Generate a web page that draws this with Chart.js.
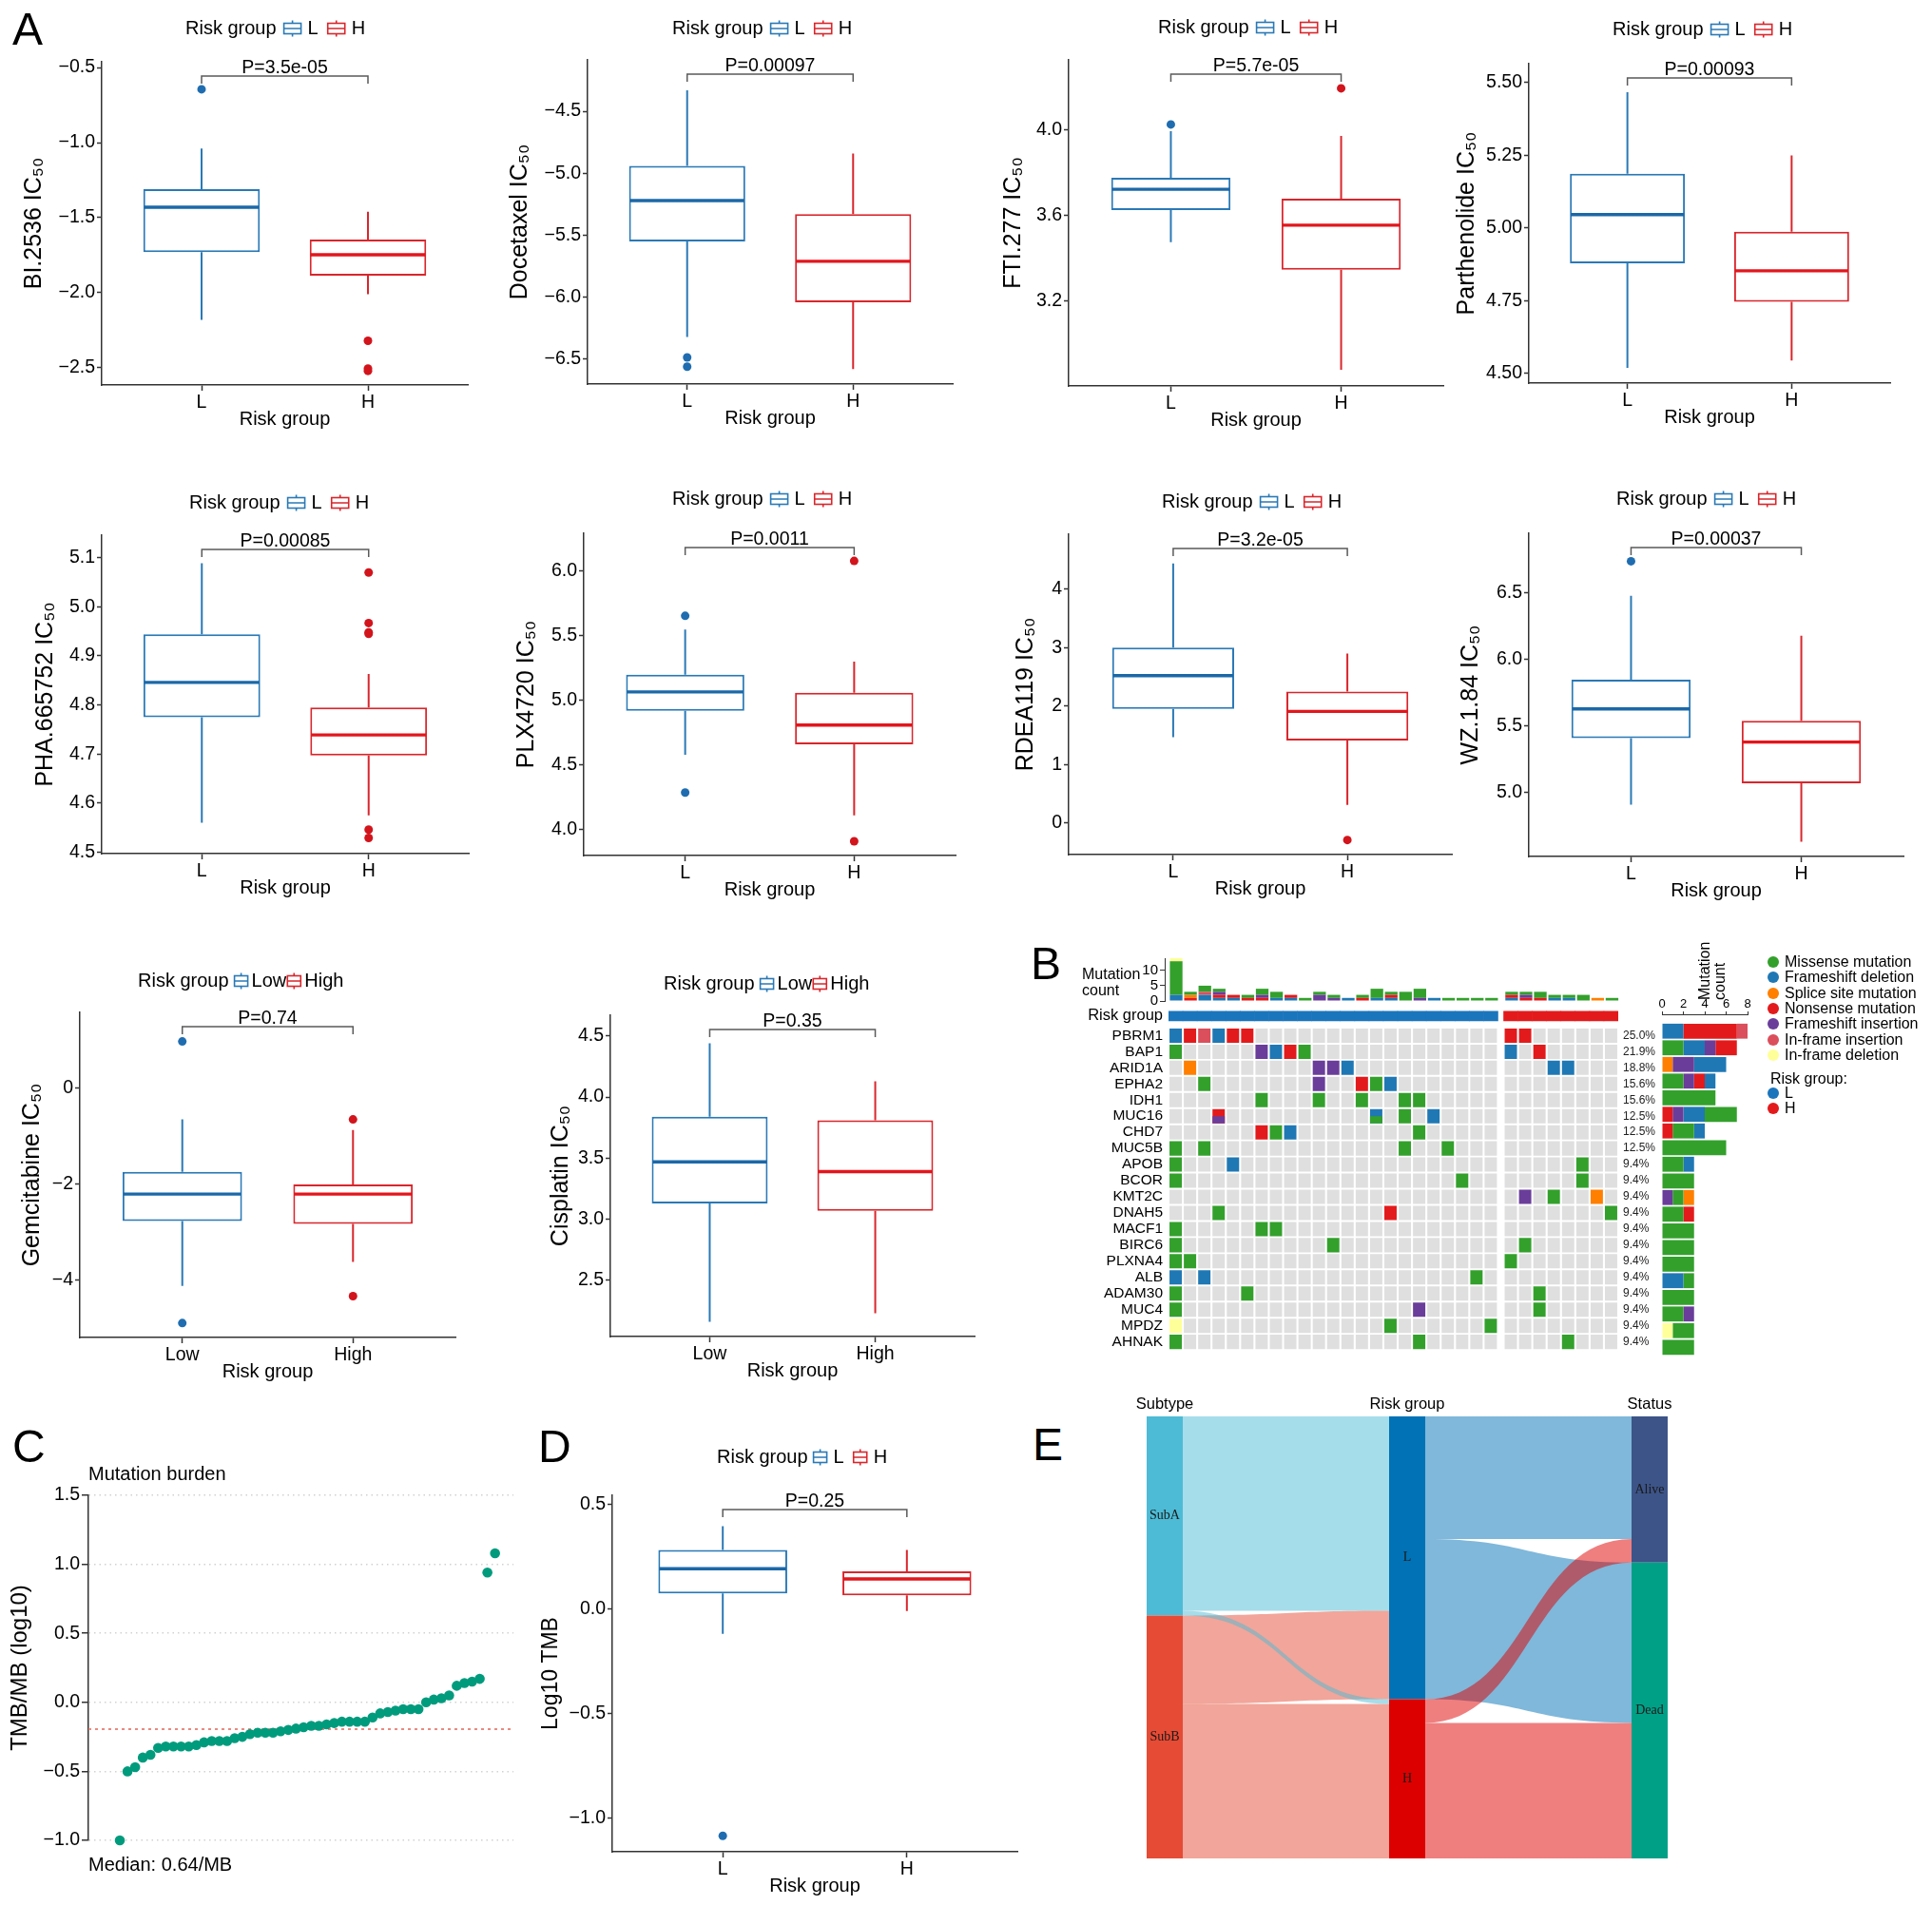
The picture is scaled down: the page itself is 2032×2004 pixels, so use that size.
<!DOCTYPE html>
<html>
<head>
<meta charset="utf-8">
<title>Drug sensitivity, mutation landscape and TMB by risk group</title>
<script src="https://cdn.jsdelivr.net/npm/chart.js@4.4.0/dist/chart.umd.min.js"></script>
<style>
  html, body { margin: 0; padding: 0; background: #fff; }
  body { position: relative; width: 2032px; height: 2004px; overflow: hidden;
         font-family: "Liberation Sans", Arial, Helvetica, sans-serif; color: #000; }
  canvas { position: absolute; }
  .txt { position: absolute; white-space: nowrap; }
  .dot { position: absolute; width: 12px; height: 12px; border-radius: 50%; }
</style>
</head>
<body>
<script>
(function () {
  "use strict";

  // ---------------- A: IC50 by risk group ----------------
  const riskShort = ["L", "H"];
  const riskLong = ["Low", "High"];
  const drugNames = ["BI.2536", "Docetaxel", "FTI.277", "Parthenolide", "PHA.665752",
                     "PLX4720", "RDEA119", "WZ.1.84", "Gemcitabine", "Cisplatin"];
  // [lower whisker, Q1, median, Q3, upper whisker]
  const lowStats = [
    [-2.18, -1.73, -1.43, -1.31, -1.04],
    [-6.32, -5.55, -5.22, -4.94, -4.33],
    [3.476, 3.627, 3.724, 3.778, 3.996],
    [4.519, 4.879, 5.046, 5.187, 5.467],
    [4.56, 4.775, 4.846, 4.944, 5.089],
    [4.58, 4.92, 5.066, 5.20, 5.55],
    [1.47, 1.95, 2.52, 3.00, 4.44],
    [4.91, 5.41, 5.63, 5.85, 6.48],
    [-4.12, -2.77, -2.21, -1.75, -0.66],
    [2.16, 3.13, 3.47, 3.84, 4.44]
  ];
  const highStats = [
    [-2.01, -1.886, -1.747, -1.645, -1.46],
    [-6.58, -6.04, -5.71, -5.33, -4.84],
    [2.88, 3.347, 3.556, 3.680, 3.973],
    [4.545, 4.746, 4.853, 4.987, 5.25],
    [4.575, 4.697, 4.739, 4.795, 4.863],
    [4.11, 4.66, 4.81, 5.06, 5.30],
    [0.31, 1.41, 1.91, 2.25, 2.90],
    [4.63, 5.07, 5.38, 5.54, 6.18],
    [-3.62, -2.83, -2.21, -2.01, -0.88],
    [2.23, 3.07, 3.39, 3.81, 4.13]
  ];
  const lowOutliers = [[-0.645], [-6.485, -6.56], [4.027], [], [], [5.655, 4.287], [], [6.74], [0.96, -4.89], []];
  const highOutliers = [[-2.32, -2.505, -2.52], [], [4.196], [], [5.07, 4.967, 4.948, 4.945, 4.546, 4.529],
                        [6.08, 3.91], [-0.29], [], [-0.66, -4.33], []];
  const pValues = ["3.5e-05", "0.00097", "5.7e-05", "0.00093", "0.00085", "0.0011", "3.2e-05", "0.00037", "0.74", "0.35"];
  const drugTicks = [
    [-2.5, -2.0, -1.5, -1.0, -0.5],
    [-6.5, -6.0, -5.5, -5.0, -4.5],
    [3.2, 3.6, 4.0],
    [4.50, 4.75, 5.00, 5.25, 5.50],
    [4.5, 4.6, 4.7, 4.8, 4.9, 5.0, 5.1],
    [4.0, 4.5, 5.0, 5.5, 6.0],
    [0, 1, 2, 3, 4],
    [5.0, 5.5, 6.0, 6.5],
    [-4, -2, 0],
    [2.5, 3.0, 3.5, 4.0, 4.5]
  ];
  const drugTickDecimals = [1, 1, 1, 2, 1, 1, 0, 1, 0, 1];
  const drugYRange = [[-2.614, -0.462], [-6.70, -4.085], [2.804, 4.329], [4.467, 5.565], [4.497, 5.146],
                      [3.80, 6.294], [-0.54, 4.94], [4.52, 6.95], [-5.19, 1.564], [2.04, 4.67]];

  // ---------------- C: TMB waterfall ----------------
  const tmbLog10 = [-1.00, -0.50, -0.47, -0.40, -0.38, -0.33, -0.32, -0.32, -0.32, -0.32,
                    -0.31, -0.29, -0.28, -0.28, -0.28, -0.26, -0.25, -0.23, -0.22, -0.22,
                    -0.22, -0.21, -0.20, -0.19, -0.18, -0.17, -0.17, -0.16, -0.15, -0.14,
                    -0.14, -0.14, -0.14, -0.11, -0.08, -0.07, -0.06, -0.05, -0.05, -0.05,
                    0.00, 0.02, 0.03, 0.05, 0.12, 0.14, 0.15, 0.17, 0.94, 1.08];
  const tmbMedianLog10 = -0.194;
  const tmbMedianLabel = "Median: 0.64/MB";
  const tmbTicks = [-1.0, -0.5, 0.0, 0.5, 1.0, 1.5];

  // ---------------- D: log10 TMB by risk group ----------------
  const tmbLowStats = [-0.118, 0.076, 0.194, 0.284, 0.397];
  const tmbHighStats = [-0.008, 0.066, 0.145, 0.181, 0.284];
  const tmbLowOutliers = [-1.084];
  const tmbHighOutliers = [];
  const tmbP = "0.25";
  const tmbBoxTicks = [-1.0, -0.5, 0.0, 0.5];

  // ---------------- B: oncoplot ----------------
  const mutTypes = ["Missense mutation", "Frameshift deletion", "Splice site mutation", "Nonsense mutation",
                    "Frameshift insertion", "In-frame insertion", "In-frame deletion"];
  const mutCodes = ["M", "D", "S", "N", "I", "P", "Y"];
  const genes = ["PBRM1", "BAP1", "ARID1A", "EPHA2", "IDH1", "MUC16", "CHD7", "MUC5B", "APOB", "BCOR",
                 "KMT2C", "DNAH5", "MACF1", "BIRC6", "PLXNA4", "ALB", "ADAM30", "MUC4", "MPDZ", "AHNAK"];
  const sampleRisk = "LLLLLLLLLLLLLLLLLLLLLLLHHHHHHHH".split("");
  // one character per sample (L samples | H samples); x = nonsense over frameshift ins, z = frameshift del over missense
  const geneMatrix = [
    "DNPDNN.................|NN......",
    "M.....IDNM.............|D.N.....",
    ".S........IID..........|...DD...",
    "..M.......I..NMD.......|........",
    "......M...M..M..MM.....|........",
    "...x..........z.M.D....|........",
    "......NMD........M.....|........",
    "M.M.............M..M...|........",
    "M...D..................|.....M..",
    "M...................M..|.....M..",
    ".......................|.I.M..S.",
    "...M...........N.......|.......M",
    "M.....MM...............|........",
    "M..........M...........|.M......",
    "MM.....................|M.......",
    "D.D..................M.|........",
    "M....M.................|..M.....",
    "M................I.....|..M.....",
    "Y..............M......M|........",
    "M................M.....|....M..."
  ].map(s => s.replace("|", ""));
  const splitCells = { x: ["N", "I"], z: ["D", "M"] };
  const totalSamples = 32;
  // per-sample mutation counts by type (top bar)
  const sampleCounts = {
    M: [11, 1, 2, 1, 0, 1, 2, 2, 0, 1, 1, 1, 0, 1, 3, 1, 3, 3, 0, 1, 1, 1, 1, 1, 1, 2, 1, 1, 2, 0, 1],
    D: [2, 0, 2, 1, 1, 0, 0, 1, 1, 0, 0, 0, 1, 0, 1, 1, 0, 0, 1, 0, 0, 0, 0, 1, 0, 0, 1, 1, 0, 0, 0],
    S: [0, 1, 0, 0, 0, 0, 0, 0, 0, 0, 0, 0, 0, 0, 0, 0, 0, 0, 0, 0, 0, 0, 0, 0, 0, 0, 0, 0, 0, 1, 0],
    N: [0, 1, 0, 1, 1, 1, 1, 0, 1, 0, 0, 0, 0, 1, 0, 1, 0, 0, 0, 0, 0, 0, 0, 1, 1, 1, 0, 0, 0, 0, 0],
    I: [0, 0, 0, 1, 0, 0, 1, 0, 0, 0, 2, 1, 0, 0, 0, 0, 0, 1, 0, 0, 0, 0, 0, 0, 1, 0, 0, 0, 0, 0, 0],
    P: [0, 0, 1, 0, 0, 0, 0, 0, 0, 0, 0, 0, 0, 0, 0, 0, 0, 0, 0, 0, 0, 0, 0, 0, 0, 0, 0, 0, 0, 0, 0],
    Y: [1, 0, 0, 0, 0, 0, 0, 0, 0, 0, 0, 0, 0, 0, 0, 0, 0, 0, 0, 0, 0, 0, 0, 0, 0, 0, 0, 0, 0, 0, 0]
  };
  const topStackOrder = ["D", "N", "S", "I", "P", "M", "Y"];
  // per-gene mutation counts by type (right bar), in drawing order
  const geneSegments = [
    [["D", 2], ["N", 5], ["P", 1]],
    [["M", 2], ["D", 2], ["I", 1], ["N", 2]],
    [["S", 1], ["I", 2], ["D", 3]],
    [["M", 2], ["I", 1], ["N", 1], ["D", 1]],
    [["M", 5]],
    [["N", 1], ["I", 1], ["D", 2], ["M", 3]],
    [["N", 1], ["M", 2], ["D", 1]],
    [["M", 6]],
    [["M", 2], ["D", 1]],
    [["M", 3]],
    [["I", 1], ["M", 1], ["S", 1]],
    [["M", 2], ["N", 1]],
    [["M", 3]],
    [["M", 3]],
    [["M", 3]],
    [["D", 2], ["M", 1]],
    [["M", 3]],
    [["M", 2], ["I", 1]],
    [["Y", 1], ["M", 2]],
    [["M", 3]]
  ];
  const rightTicks = [0, 2, 4, 6, 8];
  const topTicks = [0, 5, 10];

  // ---------------- E: alluvial ----------------
  const sankeyStages = ["Subtype", "Risk group", "Status"];
  const subtypeNodes = ["SubA", "SubB"];
  const riskNodes = ["L", "H"];
  const statusNodes = ["Alive", "Dead"];
  const subtypeToRisk = [[165, 4], [75, 131]];
  const riskToStatus = [[104, 136], [20, 115]];

  // ---------------- styles / layout ----------------
  const FONT = '"Liberation Sans", Arial, Helvetica, sans-serif';
  const SERIF = '"Liberation Serif", "Times New Roman", serif';
  const groupColor = ["#2a79b6", "#d9262c"];
  const medianColor = ["#1b68a8", "#e3161c"];
  const pointColor = ["#1f6db0", "#d2141c"];
  const axisColor = "#333333";
  const mutColor = { M: "#33a02c", D: "#1f78b4", S: "#ff7f00", N: "#e31a1c", I: "#6a3d9a", P: "#da4f5b", Y: "#ffff99" };
  const emptyCell = "#dfdfdf";
  const riskBarColor = { L: "#1b75bc", H: "#e31a1c" };
  const nodeColors = [["#4dbbd5", "#e64b35"], ["#0072b5", "#dc0000"], ["#3c5488", "#00a087"]];
  const flowColors = [["rgba(77,187,213,0.5)", "rgba(230,75,53,0.5)"], ["rgba(0,114,181,0.5)", "rgba(224,0,0,0.5)"]];
  const flowDrawOrder = [[[0, 0], [1, 0], [1, 1], [0, 1]], [[0, 0], [0, 1], [1, 1], [1, 0]]];
  const BOX_WIDTH = 0.7;
  const TICK_SIZE = 19.5;

  const drugArea = [[107, 65, 492, 405], [618, 63, 1002, 404], [1124, 63, 1518, 406], [1608, 67, 1988, 403],
                    [107, 563, 493, 898], [614, 561, 1005, 900], [1124, 562, 1527, 899], [1608, 561, 2002, 901],
                    [84, 1065, 479, 1407], [642, 1068, 1025, 1406]];
  const drugYAxisW = [86, 86, 73, 80, 74, 75, 60, 76, 65, 67];
  const drugLegend = [[195, 30], [707, 30], [1218, 29], [1696, 31], [199, 529], [707, 525], [1222, 528],
                      [1700, 525], [145, 1032], [698, 1035]];

  Chart.defaults.font.family = FONT;
  Chart.defaults.color = "#000";
  Chart.defaults.animation = false;
  Chart.defaults.events = [];
  Chart.defaults.plugins.legend.display = false;
  Chart.defaults.plugins.tooltip.enabled = false;

  function makeCanvas(left, top, width, height) {
    const c = document.createElement("canvas");
    c.width = Math.round(width);
    c.height = Math.round(height);
    c.style.left = left + "px";
    c.style.top = top + "px";
    c.style.width = Math.round(width) + "px";
    c.style.height = Math.round(height) + "px";
    document.body.appendChild(c);
    return c;
  }

  function addText(str, x, yMid, size, family) {
    const d = document.createElement("div");
    d.className = "txt";
    d.textContent = str;
    d.style.fontSize = size + "px";
    d.style.lineHeight = size + "px";
    d.style.left = x + "px";
    d.style.top = (yMid - size / 2) + "px";
    if (family) d.style.fontFamily = family;
    document.body.appendChild(d);
    return d;
  }

  function addDot(cx, cy, color) {
    const d = document.createElement("div");
    d.className = "dot";
    d.style.left = (cx - 6) + "px";
    d.style.top = (cy - 6) + "px";
    d.style.background = color;
    document.body.appendChild(d);
  }

  function fmtTick(v, dec) {
    return (v < -1e-9 ? "\u2212" : "") + Math.abs(v).toFixed(dec);
  }

  function drawKey(ctx, x, yc, w, color) {
    const h = 11;
    ctx.save();
    ctx.strokeStyle = color;
    ctx.lineWidth = 1.6;
    ctx.strokeRect(x, yc - h / 2, w, h);
    ctx.beginPath();
    ctx.moveTo(x, yc); ctx.lineTo(x + w, yc);
    ctx.moveTo(x + w / 2, yc - h / 2); ctx.lineTo(x + w / 2, yc - h / 2 - 3);
    ctx.moveTo(x + w / 2, yc + h / 2); ctx.lineTo(x + w / 2, yc + h / 2 + 3);
    ctx.stroke();
    ctx.restore();
  }

  // whiskers, medians, significance bracket and legend of a box panel
  const boxExtras = {
    id: "boxExtras",
    afterDatasetsDraw(chart, args, o) {
      const { ctx, chartArea } = chart;
      const xs = chart.scales.x, ys = chart.scales.y;
      ctx.save();
      o.stats.forEach((s, k) => {
        const xc = xs.getPixelForValue(k + 1);
        const half = xs.getPixelForValue(k + 1 + o.boxWidth / 2) - xc;
        ctx.strokeStyle = groupColor[k];
        ctx.lineWidth = 2;
        ctx.beginPath();
        ctx.moveTo(xc, ys.getPixelForValue(s[3])); ctx.lineTo(xc, ys.getPixelForValue(s[4]));
        ctx.moveTo(xc, ys.getPixelForValue(s[1])); ctx.lineTo(xc, ys.getPixelForValue(s[0]));
        ctx.stroke();
        const ym = ys.getPixelForValue(s[2]);
        ctx.strokeStyle = medianColor[k];
        ctx.lineWidth = 3.4;
        ctx.beginPath();
        ctx.moveTo(xc - half + 1, ym); ctx.lineTo(xc + half - 1, ym);
        ctx.stroke();
      });
      const x1 = xs.getPixelForValue(1), x2 = xs.getPixelForValue(2);
      const yb = chartArea.top + 15;
      ctx.strokeStyle = "#5a5a5a";
      ctx.lineWidth = 1.5;
      ctx.beginPath();
      ctx.moveTo(x1, yb + 8); ctx.lineTo(x1, yb); ctx.lineTo(x2, yb); ctx.lineTo(x2, yb + 8);
      ctx.stroke();
      ctx.fillStyle = "#000";
      ctx.font = "19.5px " + FONT;
      ctx.textAlign = "center";
      ctx.textBaseline = "alphabetic";
      ctx.fillText("P=" + o.p, (x1 + x2) / 2, yb - 3);

      let lx = o.legendX;
      const ly = o.legendY;
      ctx.font = "20px " + FONT;
      ctx.textAlign = "left";
      ctx.textBaseline = "middle";
      ctx.fillText("Risk group", lx, ly);
      lx += ctx.measureText("Risk group").width + o.gaps[0];
      o.labels.forEach((lab, k) => {
        drawKey(ctx, lx, ly, o.keyW, groupColor[k]);
        lx += o.keyW + o.gaps[1];
        ctx.fillStyle = "#000";
        ctx.fillText(lab, lx, ly);
        lx += ctx.measureText(lab).width + o.gaps[2];
      });
      ctx.restore();
    }
  };

  function axisGrid(tickLen) {
    return { display: true, offset: false, drawOnChartArea: false, drawTicks: true,
             tickLength: tickLen, tickWidth: 1.5, tickColor: axisColor };
  }

  function boxPanel(cfg) {
    const [l, t, r, b] = cfg.area;
    const xAxisH = 48, padRight = 10;
    const top = cfg.legendY - 18;
    const left = l - cfg.yAxisW;
    const cv = makeCanvas(left, top, r - l + cfg.yAxisW + padRight, b - top + xAxisH);
    const outPts = [], outCols = [];
    cfg.outliers.forEach((arr, k) => arr.forEach(v => { outPts.push({ x: k + 1, y: v }); outCols.push(pointColor[k]); }));
    new Chart(cv, {
      type: "bar",
      data: {
        datasets: [
          { type: "bar", data: cfg.stats.map((s, k) => ({ x: k + 1, y: [s[1], s[3]] })),
            backgroundColor: "#ffffff", borderColor: groupColor, borderWidth: 2, borderSkipped: false,
            grouped: false, barPercentage: BOX_WIDTH, categoryPercentage: 1, order: 2 },
          { type: "scatter", data: outPts, pointBackgroundColor: outCols, pointBorderWidth: 0,
            pointRadius: 4.5, clip: false, order: 1 }
        ]
      },
      options: {
        responsive: false,
        layout: { padding: { top: t - top, right: padRight, left: 0, bottom: 0 } },
        plugins: {
          boxExtras: { stats: cfg.stats, p: cfg.p, labels: cfg.labels, legendX: cfg.legendX - left,
                       legendY: cfg.legendY - top, gaps: cfg.gaps, keyW: cfg.keyW, boxWidth: BOX_WIDTH }
        },
        scales: {
          x: {
            type: "linear", min: 0.4, max: 2.6, offset: false,
            afterBuildTicks: s => { s.ticks = [{ value: 1 }, { value: 2 }]; },
            afterFit: s => { s.height = xAxisH; },
            ticks: { callback: v => cfg.labels[Math.round(v) - 1], font: { size: TICK_SIZE }, color: "#000",
                     padding: 1, autoSkip: false, maxRotation: 0 },
            grid: axisGrid(6),
            border: { display: true, color: axisColor, width: 1.5 },
            title: { display: true, text: "Risk group", font: { size: 20 }, color: "#000", padding: 0 }
          },
          y: {
            type: "linear", min: cfg.yRange[0], max: cfg.yRange[1], beginAtZero: false,
            afterBuildTicks: s => { s.ticks = cfg.ticks.map(v => ({ value: v })); },
            afterFit: s => { s.width = cfg.yAxisW; },
            ticks: { callback: v => fmtTick(v, cfg.dec), font: { size: TICK_SIZE }, color: "#000", padding: 2, autoSkip: false },
            grid: axisGrid(5),
            border: { display: true, color: axisColor, width: 1.5 },
            title: { display: true, text: cfg.yTitle, font: { size: cfg.yTitleSize }, color: "#000", padding: 0 }
          }
        }
      },
      plugins: [boxExtras]
    });
  }

  // ---------------- panel A ----------------
  drugNames.forEach((name, i) => {
    const long = i >= 8;
    boxPanel({
      area: drugArea[i], yRange: drugYRange[i], ticks: drugTicks[i], dec: drugTickDecimals[i],
      yTitle: name + " IC\u2085\u2080", yTitleSize: 25, yAxisW: drugYAxisW[i],
      stats: [lowStats[i], highStats[i]], outliers: [lowOutliers[i], highOutliers[i]],
      p: pValues[i], labels: long ? riskLong : riskShort,
      legendX: drugLegend[i][0], legendY: drugLegend[i][1],
      gaps: long ? [6, 4, 1] : [8, 7, 10], keyW: long ? 14 : 18
    });
  });

  // ---------------- panel D ----------------
  boxPanel({
    area: [644, 1573, 1070, 1948], yRange: [-1.16, 0.545], ticks: tmbBoxTicks, dec: 1,
    yTitle: "Log10 TMB", yTitleSize: 23, yAxisW: 78,
    stats: [tmbLowStats, tmbHighStats], outliers: [tmbLowOutliers, tmbHighOutliers],
    p: tmbP, labels: riskShort, legendX: 754, legendY: 1533, gaps: [6, 7, 10], keyW: 14
  });

  // ---------------- panel C ----------------
  (function () {
    const l = 93, r = 540, t = 1573, b = 1936, yW = 86, padT = 38, padB = 44, padR = 10;
    const xMin = -4.1, xMax = 51.4;
    const cv = makeCanvas(l - yW, t - padT, r - l + yW + padR, b - t + padT + padB);
    const labels = {
      id: "tmbLabels",
      afterDraw(chart) {
        const { ctx, chartArea } = chart;
        ctx.save();
        ctx.fillStyle = "#000";
        ctx.font = "20px " + FONT;
        ctx.textAlign = "left";
        ctx.textBaseline = "middle";
        ctx.fillText("Mutation burden", chartArea.left, chartArea.top - 22);
        ctx.fillText(tmbMedianLabel, chartArea.left, chartArea.bottom + 26);
        ctx.restore();
      }
    };
    new Chart(cv, {
      type: "scatter",
      data: {
        datasets: [
          { type: "scatter", data: tmbLog10.map((v, i) => ({ x: i, y: v })), pointBackgroundColor: "#009b7d",
            pointBorderWidth: 0, pointRadius: 5.3, clip: false, order: 1 },
          { type: "line", data: [{ x: xMin, y: tmbMedianLog10 }, { x: xMax, y: tmbMedianLog10 }],
            borderColor: "#e98a80", borderDash: [3, 4], borderWidth: 2, pointRadius: 0, order: 2 }
        ]
      },
      options: {
        responsive: false,
        layout: { padding: { top: padT, bottom: padB, right: padR, left: 0 } },
        scales: {
          x: { type: "linear", display: false, min: xMin, max: xMax },
          y: {
            type: "linear", min: -1.0, max: 1.5,
            afterBuildTicks: s => { s.ticks = tmbTicks.map(v => ({ value: v })); },
            afterFit: s => { s.width = yW; },
            ticks: { callback: v => fmtTick(v, 1), font: { size: TICK_SIZE }, color: "#000", padding: 2, autoSkip: false },
            grid: { display: true, drawOnChartArea: true, drawTicks: true, color: "#d2d2d2", lineWidth: 1.5,
                    tickLength: 7, tickWidth: 1.5, tickColor: axisColor },
            border: { display: true, color: axisColor, width: 1.5, dash: [1.5, 4] },
            title: { display: true, text: "TMB/MB (log10)", font: { size: 24 }, color: "#000", padding: 0 }
          }
        }
      },
      plugins: [labels]
    });
  })();

  // ---------------- panel B ----------------
  const colGap = 0.4;
  const colPos = sampleRisk.map((g, i) => (g === "H" ? i + colGap : i));
  const colMax = colPos[colPos.length - 1] + 0.5;
  const rowTop = 1076, rowH = 17.5, matLeft = 1229, matRight = 1702;

  function cellColor(c) {
    if (c === ".") return emptyCell;
    if (splitCells[c]) return mutColor[splitCells[c][0]];
    return mutColor[c];
  }

  // mutation matrix + risk annotation
  (function () {
    const yMin = -1.6, yMax = genes.length - 0.5;
    const riskY = -0.5 - (rowTop - 1063.5) / rowH, riskHalf = 5.5 / rowH, cellHalf = 0.443;
    const t = rowTop - (-0.5 - yMin) * rowH, b = rowTop + genes.length * rowH;
    const yW = 129, y2W = 46, pad = 10;
    const cv = makeCanvas(matLeft - yW, t - pad, matRight - matLeft + yW + y2W, b - t + 2 * pad);
    const ds = [];
    ds.push({ data: colPos.map(x => ({ x, y: [riskY - riskHalf, riskY + riskHalf] })),
              backgroundColor: sampleRisk.map(g => riskBarColor[g]), barPercentage: 1.04 });
    genes.forEach((g, gi) => {
      ds.push({ data: colPos.map(x => ({ x, y: [gi - cellHalf, gi + cellHalf] })),
                backgroundColor: geneMatrix[gi].split("").map(cellColor), barPercentage: 0.86 });
    });
    const splitData = [], splitCols = [];
    genes.forEach((g, gi) => geneMatrix[gi].split("").forEach((c, si) => {
      if (splitCells[c]) { splitData.push({ x: colPos[si], y: [gi, gi + cellHalf] }); splitCols.push(mutColor[splitCells[c][1]]); }
    }));
    ds.push({ data: splitData, backgroundColor: splitCols, barPercentage: 0.86, order: -1 });
    ds.forEach(d => { d.grouped = false; d.categoryPercentage = 1; d.borderWidth = 0; });
    const genePct = geneMatrix.map(row => (row.split("").filter(c => c !== ".").length / totalSamples * 100).toFixed(1) + "%");
    new Chart(cv, {
      type: "bar",
      data: { datasets: ds },
      options: {
        responsive: false,
        layout: { padding: { top: pad, bottom: pad, left: 0, right: 0 } },
        scales: {
          x: { type: "linear", display: false, min: -0.5, max: colMax, offset: false, grid: { offset: false },
               afterBuildTicks: s => { s.ticks = colPos.map(v => ({ value: v })); } },
          y: {
            type: "linear", reverse: true, min: yMin, max: yMax, beginAtZero: false,
            afterBuildTicks: s => { s.ticks = [riskY].concat(genes.map((g, i) => i)).map(v => ({ value: v })); },
            afterFit: s => { s.width = yW; },
            ticks: { autoSkip: false, padding: 6, color: "#000",
                     font: c => ({ size: c.index === 0 ? 16.5 : 15.5 }),
                     callback: (v, i) => (i === 0 ? "Risk group" : genes[i - 1]) },
            grid: { display: false, drawTicks: false }, border: { display: false }
          },
          y2: {
            type: "linear", position: "right", reverse: true, min: yMin, max: yMax, beginAtZero: false,
            afterBuildTicks: s => { s.ticks = genes.map((g, i) => ({ value: i })); },
            afterFit: s => { s.width = y2W; },
            ticks: { autoSkip: false, padding: 5, color: "#222", font: { size: 12 }, callback: (v, i) => genePct[i] },
            grid: { display: false, drawTicks: false }, border: { display: false }
          }
        }
      }
    });
  })();

  // per-sample mutation count (top bar)
  (function () {
    const pxPerCol = (matRight - matLeft) / (colMax + 0.5);
    const xMin = -0.5 - 4.5 / pxPerCol;
    const l = matLeft - 4.5, r = matRight, b = 1054, yMax = 14, t = b - yMax * 3.47;
    const yW = 30, padT = 8, padB = 10;
    const cv = makeCanvas(l - yW, t - padT, r - l + yW, b - t + padT + padB);
    new Chart(cv, {
      type: "bar",
      data: {
        datasets: topStackOrder.map(code => ({
          data: colPos.map((x, i) => ({ x, y: sampleCounts[code][i] })),
          backgroundColor: mutColor[code], borderWidth: 0, barPercentage: 0.88, categoryPercentage: 1
        }))
      },
      options: {
        responsive: false,
        layout: { padding: { top: padT, bottom: padB, left: 0, right: 0 } },
        scales: {
          x: { type: "linear", display: false, stacked: true, min: xMin, max: colMax, offset: false, grid: { offset: false },
               afterBuildTicks: s => { s.ticks = colPos.map(v => ({ value: v })); } },
          y: {
            type: "linear", stacked: true, min: 0, max: yMax,
            afterBuildTicks: s => { s.ticks = topTicks.map(v => ({ value: v })); },
            afterFit: s => { s.width = yW; },
            ticks: { font: { size: 15 }, color: "#000", padding: 2, autoSkip: false },
            grid: { display: true, drawOnChartArea: false, drawTicks: true, tickLength: 5, tickWidth: 1, tickColor: axisColor },
            border: { display: true, color: axisColor, width: 1 }
          }
        }
      }
    });
  })();

  // per-gene mutation count (right bar)
  (function () {
    const l = 1748, r = 1838, t = 1067, b = rowTop + genes.length * rowH;
    const yMin = -0.5 - (rowTop - t) / rowH, yMax = genes.length - 0.5;
    const xH = 16, padL = 6, padR = 8;
    const cv = makeCanvas(l - padL, t - xH, r - l + padL + padR, b - t + xH + 4);
    const nSeg = Math.max(...geneSegments.map(s => s.length));
    const ds = [];
    for (let k = 0; k < nSeg; k++) {
      ds.push({
        data: genes.map((g, i) => ({ y: i, x: geneSegments[i][k] ? geneSegments[i][k][1] : 0 })),
        backgroundColor: genes.map((g, i) => (geneSegments[i][k] ? mutColor[geneSegments[i][k][0]] : "rgba(0,0,0,0)")),
        borderWidth: 0, barPercentage: 0.9, categoryPercentage: 1
      });
    }
    new Chart(cv, {
      type: "bar",
      data: { datasets: ds },
      options: {
        responsive: false,
        indexAxis: "y",
        layout: { padding: { top: 0, bottom: 4, left: padL, right: padR } },
        scales: {
          x: {
            type: "linear", position: "top", stacked: true, min: 0, max: 8,
            afterBuildTicks: s => { s.ticks = rightTicks.map(v => ({ value: v })); },
            afterFit: s => { s.height = xH; },
            ticks: { font: { size: 13 }, color: "#000", padding: 0, autoSkip: false, maxRotation: 0 },
            grid: { display: true, drawOnChartArea: false, drawTicks: true, tickLength: 3, tickWidth: 1, tickColor: axisColor },
            border: { display: true, color: axisColor, width: 1 }
          },
          y: { type: "linear", display: false, stacked: true, reverse: true, min: yMin, max: yMax, offset: false,
               grid: { offset: false }, afterBuildTicks: s => { s.ticks = genes.map((g, i) => ({ value: i })); } }
        }
      }
    });
  })();

  // oncoplot labels and legend
  addText("Mutation", 1138, 1025, 16);
  addText("count", 1138, 1042, 16);
  (function () {
    const d = document.createElement("div");
    d.className = "txt";
    d.innerHTML = "Mutation<br>count";
    d.style.cssText += "font-size:16px;line-height:16px;left:1785px;top:1052px;transform-origin:0 0;transform:rotate(-90deg);";
    document.body.appendChild(d);
  })();
  mutTypes.forEach((name, i) => {
    const y = 1012 + i * 16.3;
    addDot(1865, y, mutColor[mutCodes[i]]);
    addText(name, 1877, y, 16);
  });
  addText("Risk group:", 1862, 1135, 16);
  riskShort.forEach((g, i) => {
    const y = 1150 + i * 16;
    addDot(1865, y, riskBarColor[g]);
    addText(g, 1877, y, 16);
  });

  // ---------------- panel E ----------------
  (function () {
    const l = 1206, r = 1754, t = 1489.5, b = 1954, nodeW = 38;
    const stageGap = (r - l - nodeW) / 2;
    const half = nodeW / 2 / stageGap;
    const padL = 20, padR = 20, xH = 24, padT = 4;
    const cv = makeCanvas(l - padL, t - xH - padT, r - l + padL + padR, b - t + xH + padT + 2);
    const stages = [subtypeNodes, riskNodes, statusNodes];
    const links = [subtypeToRisk, riskToStatus];
    const totals = [
      subtypeToRisk.map(row => row.reduce((a, v) => a + v, 0)),
      subtypeToRisk[0].map((v, j) => subtypeToRisk.reduce((a, row) => a + row[j], 0)),
      riskToStatus[0].map((v, j) => riskToStatus.reduce((a, row) => a + row[j], 0))
    ];
    const grand = totals[0].reduce((a, v) => a + v, 0);
    const starts = totals.map(tt => { let acc = 0; return tt.map(v => { const s = acc; acc += v; return s; }); });
    const nodeData = [], nodeCols = [], nodeLab = [];
    stages.forEach((nodes, si) => nodes.forEach((n, ni) => {
      nodeData.push({ x: si, y: [starts[si][ni], starts[si][ni] + totals[si][ni]] });
      nodeCols.push(nodeColors[si][ni]);
      nodeLab.push({ x: si, y: starts[si][ni] + totals[si][ni] / 2, text: n });
    }));
    // flow offsets within source and target nodes
    const flows = [];
    links.forEach((m, si) => {
      const outOff = starts[si].slice(), inOff = starts[si + 1].slice();
      const band = {};
      m.forEach((row, i) => row.forEach((n, j) => { band[i + "_" + j] = { s0: outOff[i], s1: outOff[i] + n }; outOff[i] += n; }));
      m[0].forEach((v, j) => m.forEach((row, i) => { const n = row[j]; band[i + "_" + j].t0 = inOff[j]; band[i + "_" + j].t1 = inOff[j] + n; inOff[j] += n; }));
      flowDrawOrder[si].forEach(([i, j]) => flows.push(Object.assign({ stage: si, color: flowColors[si][i] }, band[i + "_" + j])));
    });
    const flowPlugin = {
      id: "alluvialFlows",
      beforeDatasetsDraw(chart) {
        const { ctx } = chart;
        const xs = chart.scales.x, ys = chart.scales.y;
        ctx.save();
        flows.forEach(f => {
          const x0 = xs.getPixelForValue(f.stage + half), x1 = xs.getPixelForValue(f.stage + 1 - half);
          const xm = (x0 + x1) / 2;
          const a0 = ys.getPixelForValue(f.s0), a1 = ys.getPixelForValue(f.s1);
          const b0 = ys.getPixelForValue(f.t0), b1 = ys.getPixelForValue(f.t1);
          ctx.fillStyle = f.color;
          ctx.beginPath();
          ctx.moveTo(x0, a0);
          ctx.bezierCurveTo(xm, a0, xm, b0, x1, b0);
          ctx.lineTo(x1, b1);
          ctx.bezierCurveTo(xm, b1, xm, a1, x0, a1);
          ctx.closePath();
          ctx.fill();
        });
        ctx.restore();
      },
      afterDatasetsDraw(chart) {
        const { ctx } = chart;
        const xs = chart.scales.x, ys = chart.scales.y;
        ctx.save();
        ctx.fillStyle = "#1a1a1a";
        ctx.font = "14px " + SERIF;
        ctx.textAlign = "center";
        ctx.textBaseline = "middle";
        nodeLab.forEach(n => ctx.fillText(n.text, xs.getPixelForValue(n.x), ys.getPixelForValue(n.y)));
        ctx.restore();
      }
    };
    new Chart(cv, {
      type: "bar",
      data: { datasets: [{ data: nodeData, backgroundColor: nodeCols, borderWidth: 0, grouped: false,
                           barPercentage: nodeW / stageGap, categoryPercentage: 1 }] },
      options: {
        responsive: false,
        layout: { padding: { top: padT, bottom: 2, left: padL, right: padR } },
        scales: {
          x: {
            type: "linear", position: "top", min: -half, max: 2 + half, offset: false,
            afterBuildTicks: s => { s.ticks = sankeyStages.map((n, i) => ({ value: i })); },
            afterFit: s => { s.height = xH; },
            ticks: { callback: (v, i) => sankeyStages[i], font: { size: 16.5 }, color: "#000", padding: 3,
                     autoSkip: false, maxRotation: 0 },
            grid: { display: false, drawTicks: false, offset: false }, border: { display: false }
          },
          y: { type: "linear", display: false, reverse: true, min: 0, max: grand, beginAtZero: false }
        }
      },
      plugins: [flowPlugin]
    });
  })();

  // ---------------- panel letters ----------------
  addText("A", 13, 31, 48);
  addText("B", 1084, 1014, 48);
  addText("C", 13, 1522, 48);
  addText("D", 566, 1522, 48);
  addText("E", 1086, 1520, 48);
})();
</script>
</body>
</html>
